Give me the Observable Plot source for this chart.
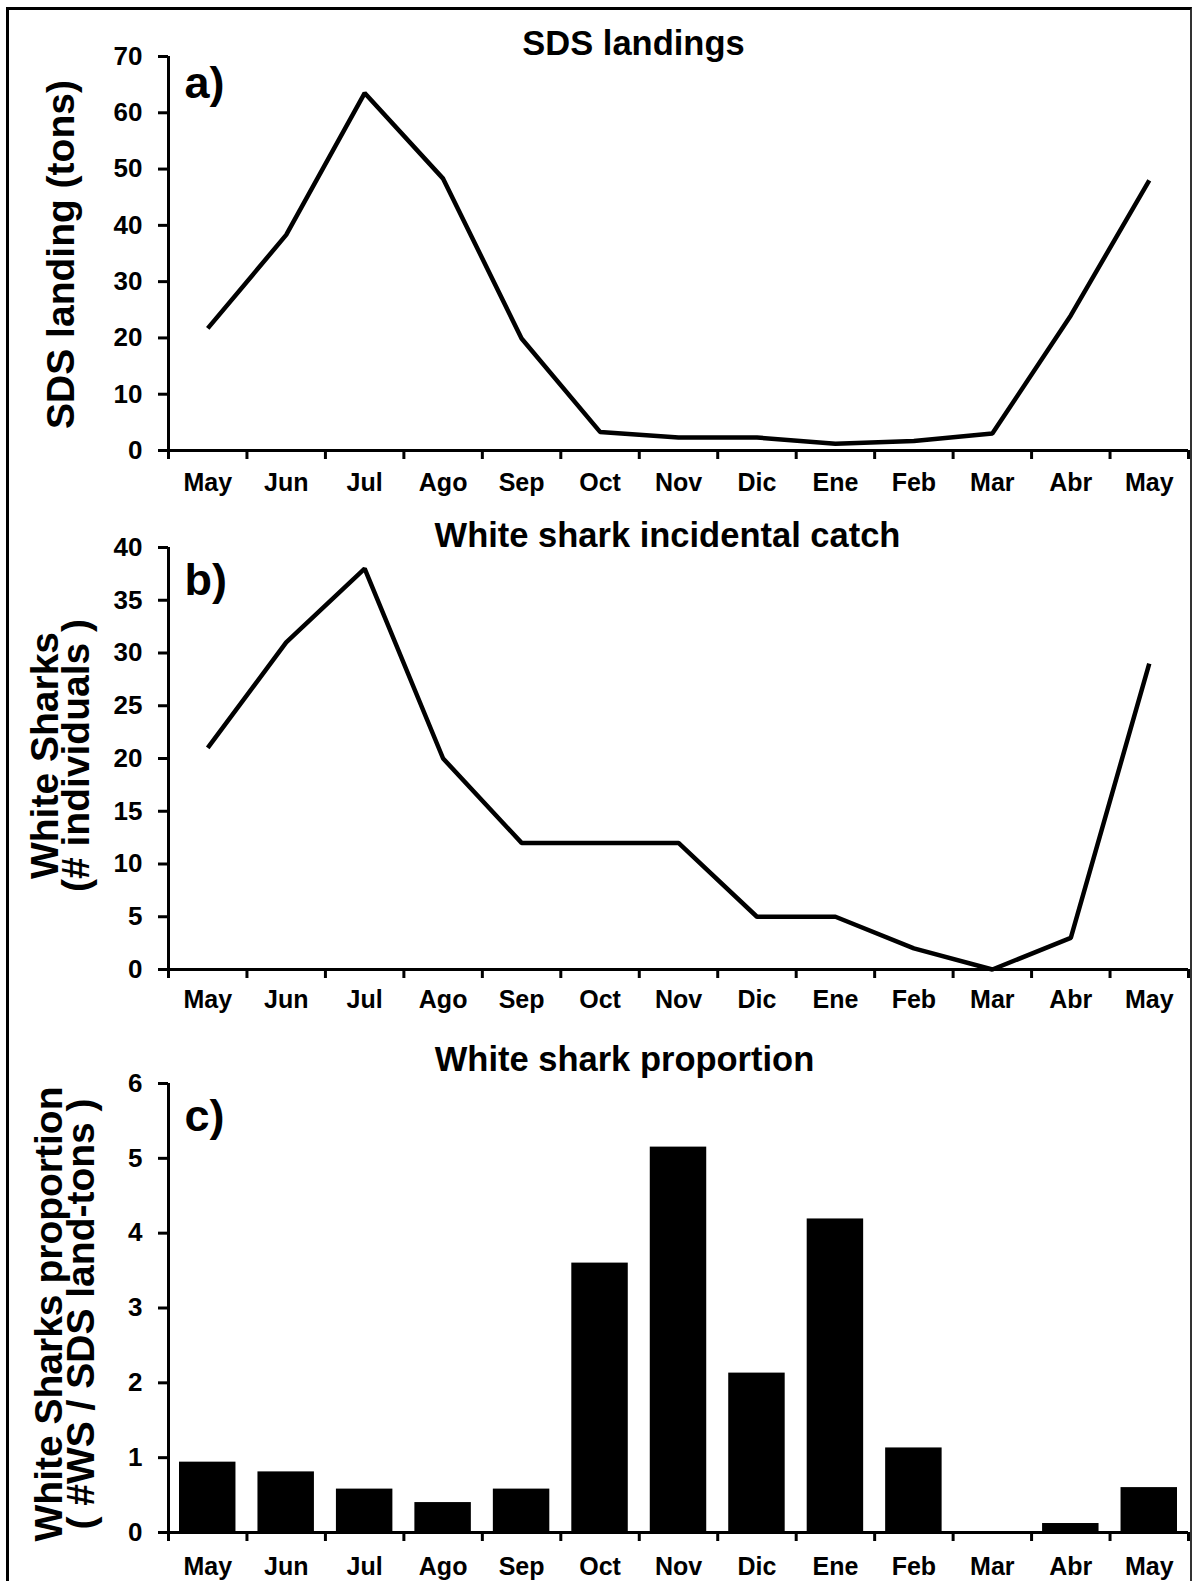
<!DOCTYPE html>
<html>
<head>
<meta charset="utf-8">
<script src="https://cdn.jsdelivr.net/npm/d3@7"></script>
<script src="https://cdn.jsdelivr.net/npm/@observablehq/plot@0.6"></script>
<style>
  html, body { margin: 0; padding: 0; background: white; overflow: hidden; width: 1193px; height: 1581px; }
  #wrap { position: relative; width: 1193px; height: 1581px; }
  #frame { position: absolute; left: 6px; top: 7px; width: 1181px; height: 1650px;
           border-left: 3px solid #000; border-top: 3px solid #000; border-right: 2px solid #333;
           z-index: 10; pointer-events: none; }
  svg { position: absolute; left: 0; }
</style>
</head>
<body>
<div id="wrap"><div id="frame"></div></div>
<script>
// ---- data ----
const months = ["May", "Jun", "Jul", "Ago", "Sep", "Oct", "Nov", "Dic", "Ene", "Feb", "Mar", "Abr", "May"];
const sdsLanding = [21.7, 38.3, 63.5, 48.3, 19.9, 3.3, 2.3, 2.3, 1.2, 1.7, 3.0, 24.0, 48.0];
const whiteSharkCatch = [21, 31, 38, 20, 12, 12, 12, 5, 5, 2, 0, 3, 29];
const wsProportion = [0.94, 0.81, 0.58, 0.40, 0.58, 3.60, 5.15, 2.13, 4.19, 1.13, 0, 0.12, 0.60];
const ticksA = [0, 10, 20, 30, 40, 50, 60, 70];
const ticksB = [0, 5, 10, 15, 20, 25, 30, 35, 40];
const ticksC = [0, 1, 2, 3, 4, 5, 6];
const titles = ["SDS landings", "White shark incidental catch", "White shark proportion"];
const letters = ["a)", "b)", "c)"];
const yLabels = ["SDS landing (tons)", "White Sharks\n(# individuals )", "White Sharks proportion\n( #WS / SDS land-tons )"];

const FONT = "'Liberation Sans', Arial, Helvetica, sans-serif";
const toRows = (vals) => vals.map((v, i) => ({i, month: months[i], v}));

function panel(cfg) {
  const rows = toRows(cfg.values);
  const dataMark = cfg.kind === "line"
    ? Plot.line(rows, {x: d => d.i + 0.5, y: "v", stroke: "black", strokeWidth: 4.5,
                       strokeLinejoin: "miter", strokeLinecap: "butt"})
    : Plot.rectY(rows, {x1: d => d.i, x2: d => d.i + 1, y: "v", fill: "black",
                        insetLeft: 11, insetRight: 11});
  const svg = Plot.plot({
    width: 1193,
    height: cfg.height,
    marginLeft: 168,
    marginRight: 5,
    marginTop: cfg.mt,
    marginBottom: cfg.mb,
    x: {domain: [0, months.length], label: null},
    y: {domain: [0, cfg.ticks[cfg.ticks.length - 1]], label: null},
    style: {fontFamily: FONT, fontWeight: "bold", fontSize: "25px", color: "black",
            background: "transparent", overflow: "visible"},
    marks: [
      dataMark,
      Plot.axisY({ticks: cfg.ticks, tickSize: 10, tickPadding: 16, strokeWidth: 3,
                  tickFormat: d => String(d), fontSize: 26, fontWeight: "bold", label: null}),
      Plot.axisX({ticks: d3.range(0, months.length + 1), tickSize: 9, strokeWidth: 3,
                  tickFormat: () => "", label: null}),
      Plot.axisX({ticks: months.map((m, i) => i + 0.5), tickSize: 0, tickPadding: cfg.xpad,
                  tickFormat: d => months[Math.floor(d)], fontSize: 25, fontWeight: "bold", label: null}),
      Plot.ruleX([0], {strokeWidth: 3, stroke: "black"}),
      Plot.ruleY([0], {strokeWidth: 3, stroke: "black"}),
      Plot.text([cfg.title], {text: d => d, frameAnchor: "top", dx: cfg.tdx, dy: cfg.tdy,
                              fontSize: 34.5, fontWeight: "bold", lineAnchor: "middle", fill: "black"}),
      Plot.text([cfg.letter], {text: d => d, frameAnchor: "top-left", textAnchor: "start",
                               dx: 16, dy: cfg.ldy, fontSize: 45, fontWeight: "bold",
                               lineAnchor: "middle", fill: "black"}),
      Plot.text([cfg.ylabel], {text: d => d, frameAnchor: "left", textAnchor: "middle", rotate: -90,
                               dx: cfg.ydx, dy: cfg.ydy, fontSize: cfg.yfs, fontWeight: "bold",
                               lineAnchor: "middle", lineHeight: cfg.ylh, fill: "black"})
    ]
  });
  svg.style.top = cfg.top + "px";
  document.getElementById("wrap").appendChild(svg);
}

panel({values: sdsLanding, kind: "line", ticks: ticksA, title: titles[0], letter: letters[0],
       ylabel: yLabels[0], top: 0, height: 505, mt: 56, mb: 55, xpad: 23,
       tdx: -45, tdy: -13, ldy: 27, ydx: -107, ydy: 1, yfs: 39, ylh: 1});
panel({values: whiteSharkCatch, kind: "line", ticks: ticksB, title: titles[1], letter: letters[1],
       ylabel: yLabels[1], top: 505, height: 515, mt: 42, mb: 51, xpad: 21,
       tdx: -11, tdy: -12, ldy: 33, ydx: -105, ydy: -3, yfs: 39, ylh: 0.8});
panel({values: wsProportion, kind: "bar", ticks: ticksC, title: titles[2], letter: letters[2],
       ylabel: yLabels[2], top: 1020, height: 561, mt: 63, mb: 49, xpad: 25,
       tdx: -54, tdy: -24, ldy: 33, ydx: -101, ydy: 6, yfs: 39, ylh: 0.82});
</script>
</body>
</html>
